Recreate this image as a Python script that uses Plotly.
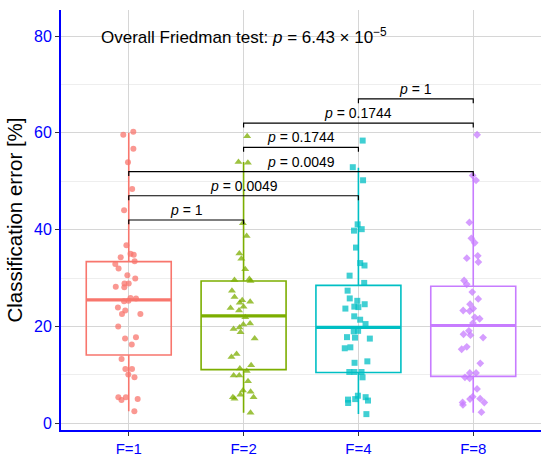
import plotly.graph_objects as go

# groups and colours
groupes = ['F=1', 'F=2', 'F=4', 'F=8']
couleurs = ['#F8766D', '#7CAE00', '#00BFC4', '#C77CFF']
symboles = ['circle', 'triangle-up', 'square', 'diamond']

# classification error (%) per fold
erreurs = {
    'F=1': [60.2, 59.6, 56.7, 53.9, 48.4, 44.0, 36.8, 34.8, 35.0, 34.3, 33.5, 32.9,
            32.0, 30.6, 29.9, 28.9, 28.9, 28.1, 28.2, 25.3, 25.2, 25.8, 25.9, 23.3,
            23.9, 22.6, 22.6, 20.0, 17.8, 17.5, 16.3, 13.3, 11.2, 11.2, 10.1, 9.5,
            5.4, 5.4, 5.0, 4.8, 2.5],
    'F=2': [59.3, 54.0, 53.8, 41.3, 38.7, 35.1, 34.0, 31.8, 29.8, 29.4, 29.6, 27.4,
            26.1, 25.1, 24.9, 25.4, 24.1, 23.8, 23.3, 21.9, 20.4, 19.8, 20.6, 19.5,
            18.8, 17.5, 13.7, 14.3, 12.0, 11.3, 10.8, 9.9, 9.9, 8.7, 6.8, 5.9,
            5.4, 6.5, 5.1, 5.4, 2.2],
    'F=4': [58.4, 52.9, 50.2, 41.1, 40.1, 39.8, 36.3, 33.1, 32.6, 30.5, 29.0, 27.4,
            25.8, 25.3, 24.1, 23.7, 24.6, 24.0, 22.1, 21.4, 20.5, 19.1, 19.0, 17.7,
            17.8, 17.5, 15.5, 15.7, 12.5, 12.8, 10.6, 10.6, 10.6, 9.5, 5.7, 5.0,
            4.7, 5.4, 4.9, 4.2, 1.9],
    'F=8': [59.6, 50.2, 51.2, 41.5, 38.2, 37.3, 34.1, 34.6, 33.3, 29.5, 28.7, 27.1,
            25.7, 24.6, 23.7, 23.3, 23.2, 21.9, 21.6, 20.7, 18.4, 19.1, 18.2, 17.7,
            15.8, 15.3, 12.4, 10.4, 10.4, 9.5, 9.3, 7.1, 5.0, 5.5, 5.1, 4.3,
            4.3, 3.8, 2.3],
}

# box statistics
q1 = [14.1, 11.1, 10.5, 9.7]
mediane = [25.5, 22.2, 19.8, 20.2]
q3 = [33.4, 29.4, 28.5, 28.3]
moustache_bas = [2.5, 2.2, 1.9, 2.2]
moustache_haut = [60.0, 54.0, 52.8, 51.2]

# pairwise comparisons (post-hoc tests)
paires = [('F=1', 'F=2'), ('F=1', 'F=4'), ('F=1', 'F=8'),
          ('F=2', 'F=4'), ('F=2', 'F=8'), ('F=4', 'F=8')]
p_valeurs = ['1', '0.0049', '0.0049', '0.1744', '0.1744', '1']
hauteurs = [42, 47, 52, 57, 62, 67]

police = 'Liberation Sans, Arial, sans-serif'
bleu = '#0000FF'

fig = go.Figure()

for i, g in enumerate(groupes):
    fig.add_trace(go.Box(
        x=[g], q1=[q1[i]], median=[mediane[i]], q3=[q3[i]],
        lowerfence=[moustache_bas[i]], upperfence=[moustache_haut[i]],
        boxpoints=False, width=0.74, whiskerwidth=0,
        line=dict(color=couleurs[i], width=1.6),
        fillcolor='rgba(0,0,0,0)', hoverinfo='skip', showlegend=False))

# thicker median bar like ggplot (line-ew is drawn 1.4 x size long)
fig.add_trace(go.Scatter(
    x=groupes, y=mediane, mode='markers',
    marker=dict(symbol='line-ew', size=60.5, color=couleurs,
                line=dict(color=couleurs, width=3.2)),
    hoverinfo='skip', showlegend=False))

for i, g in enumerate(groupes):
    vals = erreurs[g]
    fig.add_trace(go.Box(
        x=[g] * len(vals), y=vals, boxpoints='all', jitter=0.38, pointpos=0,
        width=0.74, line=dict(width=0, color='rgba(0,0,0,0)'),
        fillcolor='rgba(0,0,0,0)',
        marker=dict(symbol=symboles[i], color=couleurs[i], opacity=0.75,
                    size=7 if symboles[i] == 'triangle-up' else 6),
        hoverinfo='y', showlegend=False))

# significance brackets
for (a, b), p, h in zip(paires, p_valeurs, hauteurs):
    fig.add_trace(go.Scatter(
        x=[a, a, b, b], y=[h - 0.9, h, h, h - 0.9], mode='lines',
        line=dict(color='black', width=1.2), hoverinfo='skip', showlegend=False))
    milieu = (groupes.index(a) + groupes.index(b)) / 2
    fig.add_annotation(x=milieu, y=h, text='<i>p</i> = ' + p, showarrow=False,
                       yanchor='bottom', yshift=0,
                       font=dict(family=police, size=14, color='black'))

fig.add_annotation(x=1, y=80,
                   text='Overall Friedman test: <i>p</i> = 6.43 × 10<sup>−5</sup>',
                   showarrow=False, xanchor='center', yanchor='middle',
                   font=dict(family=police, size=17, color='black'))

fig.update_layout(
    width=550, height=461,
    margin=dict(l=61, r=9, t=10, b=31),
    plot_bgcolor='white', paper_bgcolor='white',
    font=dict(family=police, size=16, color=bleu),
    boxmode='overlay',
)
fig.update_xaxes(
    type='category', categoryorder='array', categoryarray=groupes,
    range=[-0.59, 3.59], showline=True, linecolor=bleu, linewidth=2,
    showgrid=True, gridcolor='#d6d6d6', gridwidth=1, automargin=False,
    ticks='outside', ticklen=4, tickcolor='#333333',
    tickfont=dict(family=police, size=15, color=bleu), zeroline=False)
fig.update_yaxes(
    range=[-1.38, 85.37], tickvals=[0, 20, 40, 60, 80],
    showline=True, linecolor=bleu, linewidth=2, automargin=False,
    showgrid=True, gridcolor='#d6d6d6', gridwidth=1,
    minor=dict(dtick=10, tick0=0, showgrid=True, gridcolor='#eeeeee', ticklen=0),
    ticks='outside', ticklen=4, tickcolor='#333333',
    tickfont=dict(family=police, size=16, color=bleu), zeroline=False,
    title=dict(text='Classification error [%]', standoff=6,
               font=dict(family=police, size=20.5, color='black')))

# page body has a default 8px margin: remove it so the figure fills the window
fig.write_html('out.html', config={'displayModeBar': False},
               post_script="document.body.style.margin = '0';")
